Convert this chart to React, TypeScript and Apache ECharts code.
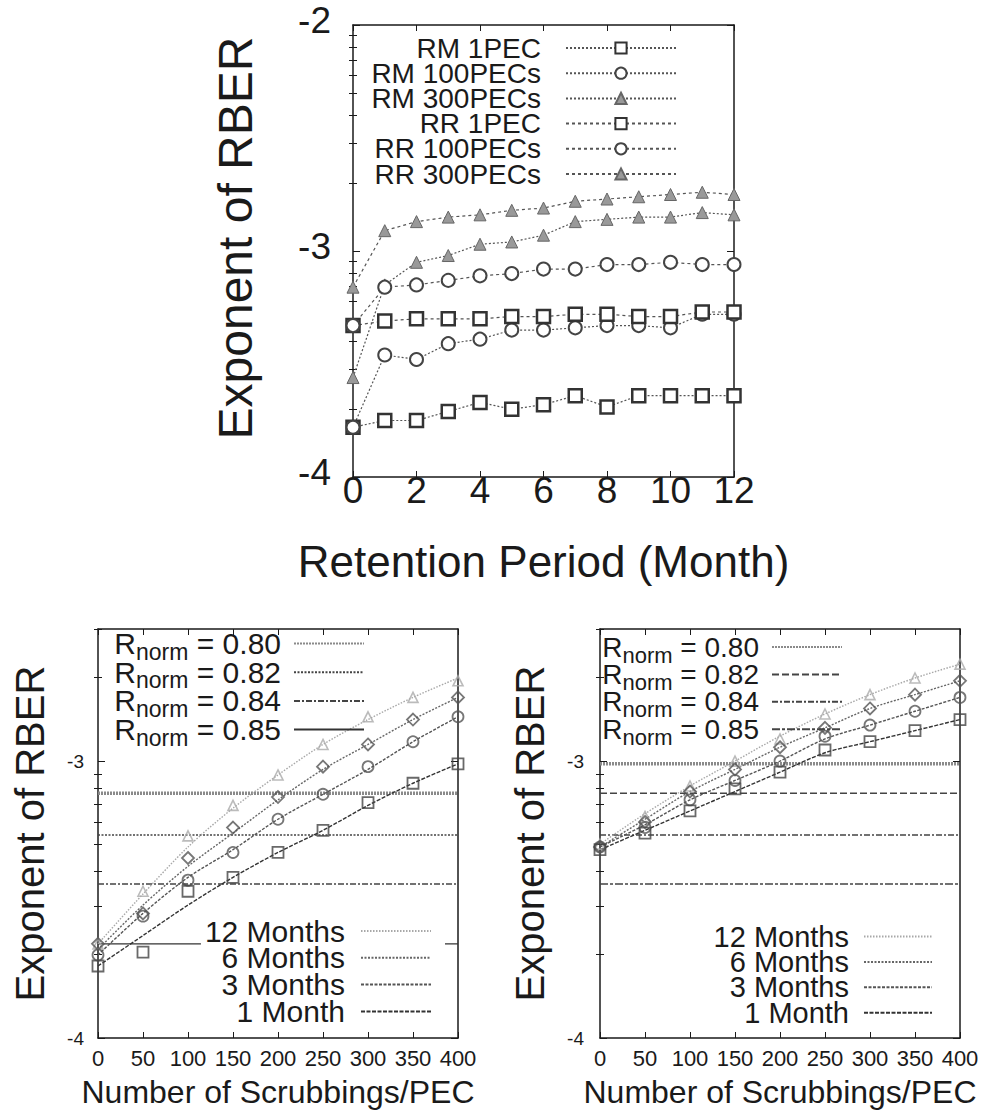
import React, { useEffect, useRef } from 'react';
import * as echarts from 'echarts';

// ---------- Data ----------
const MONTHS = [0, 1, 2, 3, 4, 5, 6, 7, 8, 9, 10, 11, 12];
const RM_1PEC = [-3.78, -3.75, -3.75, -3.71, -3.67, -3.70, -3.68, -3.64, -3.69, -3.64, -3.64, -3.64, -3.64];
const RM_100PECS = [-3.78, -3.46, -3.48, -3.41, -3.39, -3.35, -3.35, -3.34, -3.33, -3.33, -3.34, -3.28, -3.28];
const RM_300PECS = [-3.56, -3.15, -3.05, -3.02, -2.97, -2.96, -2.93, -2.87, -2.86, -2.85, -2.85, -2.83, -2.84];
const RR_1PEC = [-3.33, -3.31, -3.30, -3.30, -3.30, -3.29, -3.29, -3.28, -3.28, -3.29, -3.29, -3.27, -3.27];
const RR_100PECS = [-3.33, -3.16, -3.15, -3.13, -3.11, -3.10, -3.08, -3.08, -3.06, -3.06, -3.05, -3.06, -3.06];
const RR_300PECS = [-3.16, -2.91, -2.87, -2.85, -2.84, -2.82, -2.81, -2.78, -2.77, -2.76, -2.75, -2.74, -2.75];

const SCRUBS = [0, 50, 100, 150, 200, 250, 300, 350, 400];
// left panel: fitted curves
const L_FIT_12M = [-3.66, -3.48, -3.31, -3.17, -3.05, -2.94, -2.85, -2.77, -2.70];
const L_FIT_6M = [-3.68, -3.52, -3.38, -3.26, -3.14, -3.03, -2.94, -2.85, -2.77];
const L_FIT_3M = [-3.70, -3.55, -3.42, -3.32, -3.21, -3.12, -3.03, -2.93, -2.84];
const L_FIT_1M = [-3.74, -3.63, -3.52, -3.42, -3.33, -3.25, -3.16, -3.08, -3.01];
// left panel: measured points
const L_PT_12M = [-3.66, -3.47, -3.27, -3.16, -3.05, -2.94, -2.84, -2.77, -2.71];
const L_PT_6M = [-3.66, -3.55, -3.35, -3.24, -3.13, -3.02, -2.94, -2.85, -2.77];
const L_PT_3M = [-3.70, -3.56, -3.43, -3.33, -3.21, -3.12, -3.02, -2.93, -2.84];
const L_PT_1M = [-3.74, -3.69, -3.47, -3.42, -3.33, -3.25, -3.15, -3.08, -3.01];
// right panel: fitted curves
const R_FIT_12M = [-3.30, -3.19, -3.09, -3.00, -2.91, -2.83, -2.76, -2.70, -2.65];
const R_FIT_6M = [-3.31, -3.21, -3.11, -3.03, -2.95, -2.88, -2.81, -2.76, -2.71];
const R_FIT_3M = [-3.31, -3.23, -3.14, -3.07, -3.00, -2.92, -2.87, -2.82, -2.77];
const R_FIT_1M = [-3.32, -3.25, -3.18, -3.11, -3.04, -2.97, -2.93, -2.89, -2.85];
// right panel: measured points
const R_PT_12M = [-3.30, -3.20, -3.09, -3.00, -2.92, -2.83, -2.76, -2.70, -2.65];
const R_PT_6M = [-3.31, -3.22, -3.11, -3.03, -2.95, -2.88, -2.81, -2.76, -2.71];
const R_PT_3M = [-3.31, -3.24, -3.14, -3.07, -3.00, -2.91, -2.87, -2.82, -2.77];
const R_PT_1M = [-3.32, -3.26, -3.18, -3.10, -3.04, -2.96, -2.93, -2.89, -2.85];

const RNORM_LABELS = ['0.80', '0.82', '0.84', '0.85'];
const L_RNORM = [-3.116, -3.267, -3.444, -3.66];
const R_RNORM = [-3.01, -3.116, -3.267, -3.444];

const TOP_Y_TICKS = [-4, -3, -2];
const BOT_Y_TICKS = [-4, -3];
const BOT_Y_MAX = -2.523; // 3e-3
const LOG_STEPS = [0.301, 0.477, 0.602, 0.699, 0.778, 0.845, 0.903, 0.954];

const FONT = "'Liberation Sans', Arial, Helvetica, sans-serif";
const INK = '#1a1a1a';

const minorTicks = (lo: number, hi: number) => {
  const out: number[] = [];
  for (let d = Math.floor(lo); d < hi; d++) {
    LOG_STEPS.forEach((s) => {
      const v = d + s;
      if (v > lo && v <= hi + 1e-9) out.push(v);
    });
  }
  return out;
};

type AxisCfg = {
  grid: number;
  xmin: number; xmax: number; xint: number;
  ymin: number; ymax: number; yticks: number[];
  xName: string; xNameSize: number; xNameGap: number;
  xLabelSize: number; xLabelMargin: number;
  yName: string; yNameSize: number; yNameGap: number; yNamePad?: number[];
  yLabelSize: number; yLabelMargin: number; yLabelRaise?: boolean;
};

const frameLine = { show: true, onZero: false, lineStyle: { color: INK, width: 1.5 } };

function buildAxes(c: AxisCfg) {
  const xAxes = [
    {
      type: 'value', gridIndex: c.grid, min: c.xmin, max: c.xmax, interval: c.xint, position: 'bottom',
      axisLine: frameLine,
      axisTick: { inside: true, length: 6, lineStyle: { color: INK } },
      axisLabel: { fontSize: c.xLabelSize, fontFamily: FONT, color: INK, margin: c.xLabelMargin },
      splitLine: { show: false },
      name: c.xName, nameLocation: 'middle', nameGap: c.xNameGap,
      nameTextStyle: { fontSize: c.xNameSize, fontFamily: FONT, color: INK },
    },
    {
      type: 'value', gridIndex: c.grid, min: c.xmin, max: c.xmax, interval: c.xint, position: 'top',
      axisLine: frameLine,
      axisTick: { inside: true, length: 6, lineStyle: { color: INK } },
      axisLabel: { show: false },
      splitLine: { show: false },
    },
  ];
  const minors = minorTicks(c.ymin, c.ymax);
  const yBase = { type: 'value', gridIndex: c.grid, min: c.ymin, max: c.ymax, splitLine: { show: false } };
  const raise = c.yLabelRaise ? { verticalAlign: 'bottom', lineHeight: 10 } : {};
  const yAxes = [
    {
      ...yBase, position: 'left',
      axisLine: frameLine,
      axisTick: { inside: true, length: 7, lineStyle: { color: INK }, customValues: c.yticks },
      axisLabel: {
        customValues: c.yticks, fontSize: c.yLabelSize, fontFamily: FONT, color: INK, margin: c.yLabelMargin,
        ...raise,
      },
      name: c.yName, nameLocation: 'middle', nameGap: c.yNameGap, nameRotate: 90,
      nameTextStyle: { fontSize: c.yNameSize, fontFamily: FONT, color: INK, padding: c.yNamePad || 0 },
    },
    {
      ...yBase, position: 'left',
      axisLine: { show: false },
      axisTick: { inside: true, length: 4, lineStyle: { color: INK }, customValues: minors },
      axisLabel: { show: false },
    },
    {
      ...yBase, position: 'right',
      axisLine: frameLine,
      axisTick: { inside: true, length: 7, lineStyle: { color: INK }, customValues: c.yticks },
      axisLabel: { show: false },
    },
    {
      ...yBase, position: 'right',
      axisLine: { show: false },
      axisTick: { inside: true, length: 4, lineStyle: { color: INK }, customValues: minors },
      axisLabel: { show: false },
    },
  ];
  return { xAxes, yAxes };
}

const pairs = (xs: number[], ys: number[]) => xs.map((x, i) => [x, ys[i]]);

const DISPLAY: Record<string, string> = {
  L12: '12 Months', L6: '6 Months', L3: '3 Months', L1: '1 Month',
  R12: '12 Months', R6: '6 Months', R3: '3 Months', R1: '1 Month',
};

export default function App() {
  const ref = useRef<HTMLDivElement>(null);

  useEffect(() => {
    if (!ref.current) return;
    const chart = echarts.init(ref.current, undefined, { renderer: 'svg' });

    const top = buildAxes({
      grid: 0, xmin: 0, xmax: 12, xint: 2, ymin: -4, ymax: -2, yticks: TOP_Y_TICKS,
      xName: 'Retention Period (Month)', xNameSize: 44, xNameGap: 62,
      xLabelSize: 37, xLabelMargin: -5,
      yName: 'Exponent of RBER', yNameSize: 48, yNameGap: 94, yNamePad: [0, 0, 0, 26],
      yLabelSize: 37, yLabelMargin: 22, yLabelRaise: true,
    });
    const bl = buildAxes({
      grid: 1, xmin: 0, xmax: 400, xint: 50, ymin: -4, ymax: BOT_Y_MAX, yticks: BOT_Y_TICKS,
      xName: 'Number of Scrubbings/PEC', xNameSize: 32, xNameGap: 38,
      xLabelSize: 22, xLabelMargin: 9,
      yName: 'Exponent of RBER', yNameSize: 40, yNameGap: 48,
      yLabelSize: 19, yLabelMargin: 14,
    });
    const br = buildAxes({
      grid: 2, xmin: 0, xmax: 400, xint: 50, ymin: -4, ymax: BOT_Y_MAX, yticks: BOT_Y_TICKS,
      xName: 'Number of Scrubbings/PEC', xNameSize: 32, xNameGap: 38,
      xLabelSize: 22, xLabelMargin: 9,
      yName: 'Exponent of RBER', yNameSize: 40, yNameGap: 50,
      yLabelSize: 19, yLabelMargin: 16,
    });

    const hollow = (c: string, w = 2) => ({ color: '#ffffff', borderColor: c, borderWidth: w });

    const topSeries = [
      { name: 'RM 1PEC', data: RM_1PEC, symbol: 'rect', size: 13, line: [2, 2], item: hollow('#333', 2.5) },
      { name: 'RM 100PECs', data: RM_100PECS, symbol: 'circle', size: 13, line: [2, 2], item: hollow('#444', 2) },
      { name: 'RM 300PECs', data: RM_300PECS, symbol: 'triangle', size: 12, line: [2, 2], item: { color: '#999', borderColor: '#666', borderWidth: 1 } },
      { name: 'RR 1PEC', data: RR_1PEC, symbol: 'rect', size: 13, line: [3, 3], item: hollow('#333', 2.5) },
      { name: 'RR 100PECs', data: RR_100PECS, symbol: 'circle', size: 13, line: [3, 3], item: hollow('#444', 2) },
      { name: 'RR 300PECs', data: RR_300PECS, symbol: 'triangle', size: 12, line: [3, 3], item: { color: '#999', borderColor: '#666', borderWidth: 1 } },
    ].map((s) => ({
      name: s.name, type: 'line', xAxisIndex: 0, yAxisIndex: 0,
      data: pairs(MONTHS, s.data),
      symbol: s.symbol, symbolSize: s.size, showAllSymbol: true,
      lineStyle: { color: '#555', width: 1.2, type: s.line },
      itemStyle: s.item,
    }));

    const rnormStylesL = [
      { color: '#8a8a8a', width: 3.5, type: [2, 1] },
      { color: '#444', width: 1.4, type: [2, 1.5] },
      { color: '#444', width: 1.4, type: [6, 2, 2, 2] },
      { color: '#333', width: 1.2, type: 'solid' },
    ];
    const rnormStylesR = [
      { color: '#8a8a8a', width: 3.5, type: [2, 1] },
      { color: '#444', width: 1.4, type: [7, 3] },
      { color: '#444', width: 1.4, type: [6, 2, 2, 2] },
      { color: '#444', width: 1.4, type: [8, 2, 3, 2] },
    ];

    const rnormSeries = (prefix: string, vals: number[], styles: any[], xi: number, yi: number) =>
      vals.map((v, i) => ({
        name: prefix + RNORM_LABELS[i], type: 'line', xAxisIndex: xi, yAxisIndex: yi,
        data: [[SCRUBS[0], v], [SCRUBS[SCRUBS.length - 1], v]],
        symbol: 'none', lineStyle: styles[i], itemStyle: { color: styles[i].color }, z: 1,
      }));

    const fitStyles = [
      { color: '#a8a8a8', width: 1.4, type: [1.5, 1.5] },
      { color: '#666', width: 1.4, type: [2, 1.5] },
      { color: '#555', width: 1.4, type: [3, 1.5] },
      { color: '#333', width: 1.4, type: [4, 1.5] },
    ];
    const fitSeries = (prefix: string, fits: number[][], xi: number, yi: number) =>
      ['12', '6', '3', '1'].map((k, i) => ({
        name: prefix + k, type: 'line', xAxisIndex: xi, yAxisIndex: yi,
        data: pairs(SCRUBS, fits[i]), symbol: 'none', smooth: 0.3,
        lineStyle: fitStyles[i], itemStyle: { color: fitStyles[i].color }, z: 2,
      }));
    const ptShapes = [
      { symbol: 'triangle', size: 10, item: { color: 'rgba(0,0,0,0)', borderColor: '#aaa', borderWidth: 1.6 } },
      { symbol: 'diamond', size: 12, item: { color: 'rgba(0,0,0,0)', borderColor: '#555', borderWidth: 1.8 } },
      { symbol: 'circle', size: 11, item: { color: 'rgba(0,0,0,0)', borderColor: '#555', borderWidth: 1.8 } },
      { symbol: 'rect', size: 11, item: { color: 'rgba(0,0,0,0)', borderColor: '#444', borderWidth: 1.8 } },
    ];
    const ptSeries = (prefix: string, pts: number[][], xi: number, yi: number) =>
      pts.map((p, i) => ({
        name: prefix + ' points ' + i, type: 'scatter', xAxisIndex: xi, yAxisIndex: yi,
        data: pairs(SCRUBS, p), symbol: ptShapes[i].symbol, symbolSize: ptShapes[i].size,
        itemStyle: ptShapes[i].item, z: 3,
      }));

    const rich = (size: number, sub: number) => ({
      r: { fontSize: size, fontFamily: FONT, color: INK, lineHeight: size },
      s: { fontSize: sub, fontFamily: FONT, color: INK, lineHeight: size, padding: [16, 0, 0, 0] },
      t: { fontSize: size, fontFamily: FONT, color: INK, lineHeight: size },
    });
    const rnormFmt = (name: string) => `{r|R}{s|norm}{t| = ${name.slice(1)}}`;

    const legendBase = {
      orient: 'vertical', align: 'right', selectedMode: false, padding: 0,
    };
    const lineOnlyIcon = { itemStyle: { opacity: 0 } };

    const option = {
      animation: false,
      backgroundColor: '#ffffff',
      grid: [
        { left: 353, top: 25, width: 381, height: 452 },
        { left: 98, top: 629, width: 360, height: 409 },
        { left: 600, top: 629, width: 360, height: 409 },
      ],
      xAxis: [...top.xAxes, ...bl.xAxes, ...br.xAxes],
      yAxis: [...top.yAxes, ...bl.yAxes, ...br.yAxes],
      legend: [
        {
          ...legendBase, right: 308, top: 34, itemWidth: 110, itemHeight: 14, itemGap: -2.8,
          data: topSeries.map((s) => s.name),
          textStyle: { fontSize: 28, fontFamily: FONT, color: INK, lineHeight: 24, padding: [0, 20, 0, 0] },
        },
        {
          ...legendBase, ...lineOnlyIcon, right: 620, top: 624, itemWidth: 70, itemHeight: 14, itemGap: -10.3,
          data: RNORM_LABELS.map((l) => 'L' + l),
          formatter: rnormFmt,
          textStyle: { rich: rich(30, 23), padding: [0, 8, 0, 0] },
        },
        {
          ...legendBase, ...lineOnlyIcon, right: 540, top: 914, itemWidth: 70, itemHeight: 14, itemGap: -3.2,
          padding: [2, 13, 2, 4], backgroundColor: '#ffffff',
          data: ['L12', 'L6', 'L3', 'L1'],
          formatter: (n: string) => DISPLAY[n],
          textStyle: { fontSize: 30, fontFamily: FONT, color: INK, lineHeight: 27, padding: [0, 11, 0, 0] },
        },
        {
          ...legendBase, ...lineOnlyIcon, right: 142, top: 628, itemWidth: 70, itemHeight: 14, itemGap: -10.6,
          data: RNORM_LABELS.map((l) => 'R' + l),
          formatter: rnormFmt,
          textStyle: { rich: rich(28, 22), padding: [0, 8, 0, 0] },
        },
        {
          ...legendBase, ...lineOnlyIcon, right: 52, top: 922, itemWidth: 68, itemHeight: 14, itemGap: -3.6,
          data: ['R12', 'R6', 'R3', 'R1'],
          formatter: (n: string) => DISPLAY[n],
          textStyle: { fontSize: 29, fontFamily: FONT, color: INK, lineHeight: 26, padding: [0, 10, 0, 0] },
        },
      ],
      series: [
        ...topSeries,
        ...rnormSeries('L', L_RNORM, rnormStylesL, 2, 4),
        ...fitSeries('L', [L_FIT_12M, L_FIT_6M, L_FIT_3M, L_FIT_1M], 2, 4),
        ...ptSeries('L', [L_PT_12M, L_PT_6M, L_PT_3M, L_PT_1M], 2, 4),
        ...rnormSeries('R', R_RNORM, rnormStylesR, 4, 8),
        ...fitSeries('R', [R_FIT_12M, R_FIT_6M, R_FIT_3M, R_FIT_1M], 4, 8),
        ...ptSeries('R', [R_PT_12M, R_PT_6M, R_PT_3M, R_PT_1M], 4, 8),
      ],
    };

    chart.setOption(option as any);
    return () => chart.dispose();
  }, []);

  return (
    <div
      ref={ref}
      style={{ position: 'absolute', left: 0, top: 0, width: 985, height: 1115, background: '#fff' }}
    />
  );
}
